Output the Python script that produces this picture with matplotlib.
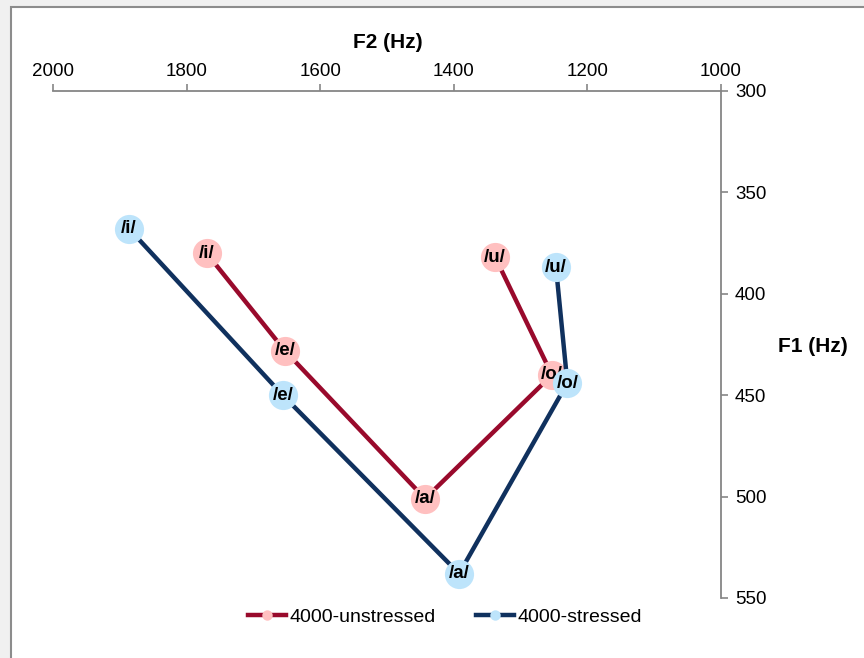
import matplotlib.pyplot as plt
from matplotlib.patches import Rectangle
from matplotlib.lines import Line2D

# vowel formant data
vowels = ['/i/', '/e/', '/a/', '/o/', '/u/']
f2_unstressed = [1770, 1653, 1443, 1253, 1338]
f1_unstressed = [380, 428, 501, 440, 382]
f2_stressed = [1886, 1656, 1392, 1230, 1247]
f1_stressed = [368, 450, 538, 444, 387]

plt.rcParams['font.family'] = ['Liberation Sans', 'DejaVu Sans']

fig = plt.figure(figsize=(8.64, 6.58), dpi=100)
fig.patch.set_facecolor('#f0f0f0')
fig.patches.append(Rectangle((10.5 / 864, -0.01), 1.0, 1 - 6.5 / 658 + 0.01,
                             transform=fig.transFigure, facecolor='white',
                             edgecolor='#8c8c8c', linewidth=1.5, zorder=-5))

ax = fig.add_axes([53 / 864, 1 - 598 / 658, 668 / 864, 507 / 658])
ax.set_facecolor('none')
ax.set_zorder(2)

# unstressed first, stressed drawn over it
ax.plot(f2_unstressed, f1_unstressed, color='#990a2c', linewidth=3.2,
        marker='o', markersize=21, markerfacecolor='#ffc0c0',
        markeredgecolor='none', zorder=3, clip_on=False)
for x, y, v in zip(f2_unstressed, f1_unstressed, vowels):
    ax.text(x, y, v, ha='center', va='center', fontsize=13.5,
            fontweight='bold', zorder=4)
ax.plot(f2_stressed, f1_stressed, color='#10315e', linewidth=3.2,
        marker='o', markersize=21, markerfacecolor='#bde4fb',
        markeredgecolor='none', zorder=5, clip_on=False)
for x, y, v in zip(f2_stressed, f1_stressed, vowels):
    ax.text(x, y, v, ha='center', va='center', fontsize=13.5,
            fontweight='bold', zorder=6)

ax.set_xlim(2000, 1000)
ax.set_ylim(550, 300)
ax.set_xticks([2000, 1800, 1600, 1400, 1200, 1000])
ax.set_yticks([300, 350, 400, 450, 500, 550])
ax.xaxis.tick_top()
ax.yaxis.tick_right()
for s in ['left', 'bottom']:
    ax.spines[s].set_visible(False)
for s in ['top', 'right']:
    ax.spines[s].set_color('#868686')
    ax.spines[s].set_linewidth(1.3)
ax.tick_params(colors='#868686', labelcolor='black', length=5, width=1.2,
               direction='out', labelsize=13.5)
ax.tick_params(axis='x', pad=3)
ax.tick_params(axis='y', pad=5)

fig.text(388 / 864, 1 - 43 / 658, 'F2 (Hz)', ha='center', va='center',
         fontsize=15, fontweight='bold')
fig.text(813 / 864, 1 - 347 / 658, 'F1 (Hz)', ha='center', va='center',
         fontsize=15, fontweight='bold')

handles = [
    Line2D([], [], color='#990a2c', linewidth=3.2, marker='o', markersize=7.5,
           markerfacecolor='#ffc0c0', markeredgecolor='none'),
    Line2D([], [], color='#10315e', linewidth=3.2, marker='o', markersize=7.5,
           markerfacecolor='#bde4fb', markeredgecolor='none'),
]
fig.legend(handles, ['4000-unstressed', '4000-stressed'],
           loc='center', bbox_to_anchor=(445 / 864, 1 - 617 / 658), ncol=2,
           frameon=False, fontsize=14, handlelength=1.95, handletextpad=0.15,
           columnspacing=2.1)

fig.savefig('out.png', dpi=100, facecolor=fig.get_facecolor())
